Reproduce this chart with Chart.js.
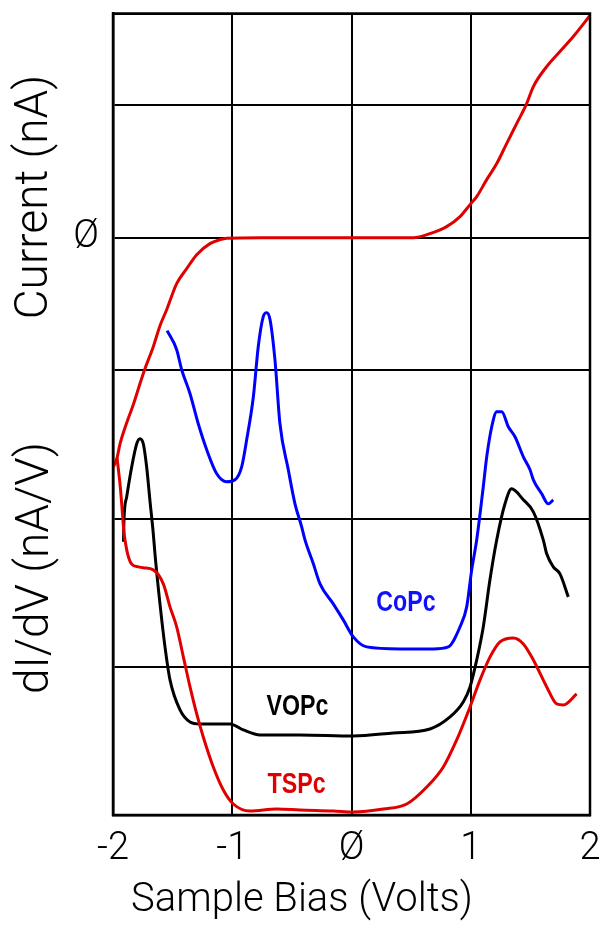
<!DOCTYPE html>
<html>
<head>
<meta charset="utf-8">
<script src="https://cdn.jsdelivr.net/npm/chart.js@4/dist/chart.umd.min.js"></script>
<style>
  html, body { margin: 0; padding: 0; background: #fff; }
  canvas { display: block; }
</style>
</head>
<body>
<canvas id="stsChart" width="602" height="925"></canvas>
<script>
// Sample bias axis (Volts)
const biasTicks = [-2, -1, 0, 1, 2];
// Horizontal reference lines (arbitrary signal units, bottom = 0)
const gridLevels = [0, 148, 296, 445, 577, 710, 801];
const currentZero = 577;

// TSPc tunnelling current I(V)
const currentBias = [-1.996, -1.966, -1.941, -1.885, -1.830, -1.774, -1.732, -1.662, -1.606, -1.550, -1.466, -1.382, -1.298, -1.187, -1.103, -1.047, -0.767, -0.432, -0.013, 0.518, 0.658, 0.798, 0.910, 0.994, 1.050, 1.134, 1.218, 1.301, 1.385, 1.469, 1.525, 1.637, 1.748, 1.860, 2.000];
const currentValues = [348, 357, 371, 392, 410, 431, 446, 468, 489, 505, 531, 546, 560, 571, 575, 576.5, 577, 577, 577, 577, 581, 588, 598, 610, 618, 635, 651, 671, 691, 711, 728, 748, 763, 778, 799];

// dI/dV spectra
const tspcBias = [-1.966, -1.939, -1.925, -1.910, -1.885, -1.845, -1.788, -1.746, -1.662, -1.578, -1.522, -1.466, -1.410, -1.354, -1.298, -1.243, -1.159, -1.075, -0.991, -0.851, -0.627, -0.432, -0.153, 0.015, 0.267, 0.463, 0.631, 0.770, 0.882, 0.994, 1.078, 1.162, 1.245, 1.357, 1.441, 1.525, 1.637, 1.721, 1.776, 1.888];
const tspcValues = [357, 328, 308, 285, 265, 251, 248, 247, 245, 231, 208, 188, 158, 128, 101, 78, 48, 25, 11, 4, 6, 5, 4, 3, 6, 11, 28, 48, 75, 108, 135, 158, 173, 177, 171, 155, 128, 111, 110, 121];

const vopcBias = [-1.912, -1.908, -1.885, -1.843, -1.801, -1.774, -1.746, -1.718, -1.690, -1.662, -1.648, -1.606, -1.564, -1.522, -1.438, -1.354, -1.270, -1.019, -0.907, -0.767, -0.432, 0.015, 0.350, 0.658, 0.826, 0.937, 0.994, 1.050, 1.105, 1.161, 1.218, 1.287, 1.343, 1.441, 1.525, 1.608, 1.637, 1.692, 1.748, 1.818];
const vopcValues = [273, 295, 318, 348, 371, 376, 371, 348, 314, 281, 261, 211, 168, 135, 105, 93, 91, 91, 85, 80, 80, 79, 82, 86, 98, 113, 128, 155, 188, 235, 275, 311, 326, 315, 303, 275, 261, 248, 241, 218];

const copcBias = [-1.546, -1.466, -1.424, -1.354, -1.285, -1.214, -1.130, -1.047, -0.977, -0.921, -0.879, -0.823, -0.782, -0.740, -0.711, -0.683, -0.642, -0.600, -0.530, -0.474, -0.418, -0.390, -0.320, -0.264, -0.153, -0.069, 0.015, 0.127, 0.407, 0.686, 0.812, 0.910, 0.966, 1.008, 1.050, 1.105, 1.134, 1.176, 1.218, 1.260, 1.315, 1.371, 1.441, 1.497, 1.525, 1.595, 1.650, 1.692];
const copcValues = [484, 465, 445, 421, 391, 365, 341, 333, 335, 348, 375, 418, 468, 498, 502, 495, 455, 391, 345, 311, 288, 275, 251, 231, 211, 195, 178, 168, 166, 166, 168, 188, 208, 245, 275, 328, 358, 388, 403, 403, 388, 378, 358, 345, 335, 321, 311, 315];

// Spectrum labels: [text, bias, signal, colour]
const spectrumLabels = [
  ['CoPc', 0.457, 212, '#1010ff'],
  ['VOPc', -0.453, 108, '#000000'],
  ['TSPc', -0.461, 30, '#e00000']
];

const pts = (xs, ys) => xs.map((x, i) => ({ x: x, y: ys[i] }));

const thinFont = "Roboto, 'Liberation Sans', sans-serif";

// keep the plot frame fixed: tick labels may overhang the edges
function noLabelPadding(scale) {
  scale.paddingTop = 0;
  scale.paddingBottom = 0;
  scale.paddingLeft = 0;
  scale.paddingRight = 0;
}

// closed box around the plotting area
const framePlugin = {
  id: 'plotFrame',
  afterDatasetsDraw(chart) {
    const { ctx, chartArea: a } = chart;
    ctx.save();
    ctx.strokeStyle = '#000';
    ctx.lineWidth = 2.5;
    ctx.strokeRect(a.left, a.top, a.right - a.left, a.bottom - a.top);
    ctx.restore();
  }
};

const titlePlugin = {
  id: 'panelTitles',
  afterDraw(chart) {
    const ctx = chart.ctx;
    const xs = chart.scales.x, ys = chart.scales.y;
    ctx.save();
    ctx.fillStyle = '#000';
    ctx.textAlign = 'center';
    ctx.textBaseline = 'middle';
    ctx.font = '300 46px ' + thinFont;
    // left-hand axis titles
    ctx.save();
    ctx.translate(35, 197);
    ctx.rotate(-Math.PI / 2);
    ctx.fillText('Current (nA)', 0, 0);
    ctx.restore();
    ctx.save();
    ctx.translate(36, 568);
    ctx.rotate(-Math.PI / 2);
    ctx.fillText('dI/dV (nA/V)', 0, 0);
    ctx.restore();
    // bottom axis title
    ctx.font = '300 40px ' + thinFont;
    ctx.fillText('Sample Bias (Volts)', 302, 901);
    // spectrum labels, bold and condensed
    ctx.font = "bold 29px 'Liberation Sans', Arial, sans-serif";
    spectrumLabels.forEach(([txt, bx, sy, col]) => {
      ctx.save();
      ctx.translate(xs.getPixelForValue(bx), ys.getPixelForValue(sy));
      ctx.scale(0.8, 1);
      ctx.fillStyle = col;
      ctx.fillText(txt, 0, 0);
      ctx.restore();
    });
    ctx.restore();
  }
};

new Chart(document.getElementById('stsChart'), {
  type: 'line',
  data: {
    datasets: [
      { label: 'TSPc I(V)', data: pts(currentBias, currentValues), borderColor: '#e00000' },
      { label: 'TSPc', data: pts(tspcBias, tspcValues), borderColor: '#e00000' },
      { label: 'VOPc', data: pts(vopcBias, vopcValues), borderColor: '#000000' },
      { label: 'CoPc', data: pts(copcBias, copcValues), borderColor: '#0000ff' }
    ]
  },
  options: {
    responsive: false,
    animation: false,
    events: [],
    layout: { padding: { top: 13.5, right: 12, left: 0, bottom: 0 } },
    elements: {
      point: { radius: 0 },
      line: { borderWidth: 3, cubicInterpolationMode: 'monotone', fill: false }
    },
    plugins: { legend: { display: false }, tooltip: { enabled: false } },
    scales: {
      x: {
        type: 'linear',
        min: -2,
        max: 2,
        afterBuildTicks(scale) { scale.ticks = biasTicks.map(v => ({ value: v })); },
        afterFit(scale) { scale.height = 110; noLabelPadding(scale); },
        ticks: {
          color: '#000',
          padding: 12,
          maxRotation: 0,
          font: { family: thinFont, size: 38, weight: '300' },
          callback: v => (v === 0 ? 'Ø' : String(v))
        },
        grid: { color: '#000', lineWidth: 2, drawTicks: false },
        border: { color: '#000', width: 2.5 }
      },
      y: {
        type: 'linear',
        min: 0,
        max: 801,
        afterBuildTicks(scale) { scale.ticks = gridLevels.map(v => ({ value: v })); },
        afterFit(scale) { scale.width = 113; noLabelPadding(scale); },
        ticks: {
          color: '#000',
          padding: 14,
          font: { family: thinFont, size: 38, weight: '300' },
          callback: v => (v === currentZero ? 'Ø' : '')
        },
        grid: { color: '#000', lineWidth: 2, drawTicks: false },
        border: { color: '#000', width: 2.5 }
      }
    }
  },
  plugins: [framePlugin, titlePlugin]
});
</script>
</body>
</html>
